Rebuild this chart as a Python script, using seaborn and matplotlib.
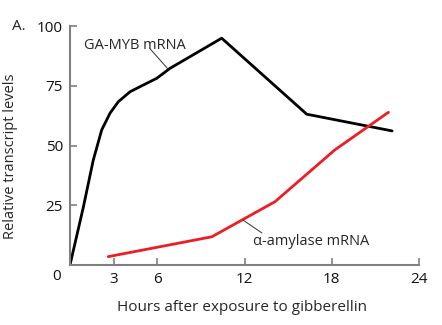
import matplotlib
matplotlib.use("Agg")
import matplotlib.pyplot as plt
import seaborn as sns
import pandas as pd

# GA-MYB mRNA
myb_hours = [0, 0.91, 1.6, 2.18, 2.75, 3.32, 4.13, 5.04, 5.96, 6.88, 10.43, 16.28, 22.15]
myb_level = [0, 24.0, 43.9, 56.5, 63.5, 68.3, 72.5, 75.3, 78.1, 82.3, 94.9, 63.1, 56.1]
# alpha-amylase mRNA
amy_hours = [2.63, 9.75, 14.1, 18.2, 21.9]
amy_level = [3.5, 11.8, 26.5, 48.1, 63.9]

x_ticks = [3, 6, 12, 18, 24]
y_ticks = [25, 50, 75, 100]

sns.set_style("white")
plt.rcParams['font.family'] = ['Open Sans', 'DejaVu Sans']

fig = plt.figure(figsize=(4.42, 3.25), dpi=100)
ax = fig.add_axes([70/442, 60/325, (419-70)/442, (265-26)/325])

df_myb = pd.DataFrame({"h": myb_hours, "v": myb_level})
df_amy = pd.DataFrame({"h": amy_hours, "v": amy_level})
sns.lineplot(data=df_myb, x="h", y="v", ax=ax, color="black", lw=2.0, sort=False)
sns.lineplot(data=df_amy, x="h", y="v", ax=ax, color="#ee1c25", lw=2.0, sort=False)

ax.set_xlim(0, 24)
ax.set_ylim(0, 100)
ax.set_xticks(x_ticks)
ax.set_yticks(y_ticks)
ax.set_xticklabels([str(t) for t in x_ticks])
ax.set_yticklabels([str(t) for t in y_ticks])
ax.tick_params(direction="in", length=5, width=1.2, color="#808080",
               labelsize=11, pad=5, bottom=True, left=True, labelcolor="#111111")
for s in ["top", "right"]:
    ax.spines[s].set_visible(False)
for s in ["left", "bottom"]:
    ax.spines[s].set_color("#808080")
    ax.spines[s].set_linewidth(1.5)

ax.set_xlabel("Hours after exposure to gibberellin", fontsize=11)
ax.xaxis.set_label_coords((242 - 70) / 349, -(300 - 265) / 239)
ax.set_ylabel("Relative transcript levels", fontsize=10.5)
ax.yaxis.set_label_coords(-(70 - 18) / 349, (265 - 156) / 239)

fig.text(57/442, 1 - 277/325, "0", ha="center", va="center", fontsize=11, color="#111111")
fig.text(12/442, 1 - 26/325, "A.", ha="left", va="center", fontsize=11)

# labels with leader lines
ax.text(4.47, 92, "GA-MYB mRNA", ha="center", va="center", fontsize=10.5)
ax.plot([5.5, 6.74], [90.5, 82.0], color="#333333", lw=0.7)
ax.text(16.6, 10, "α-amylase mRNA", ha="center", va="center", fontsize=10.5)
ax.plot([11.9, 13.2], [18.8, 13.4], color="#333333", lw=0.7)

if ax.get_legend():
    ax.get_legend().remove()

fig.savefig("out.png", dpi=100)
